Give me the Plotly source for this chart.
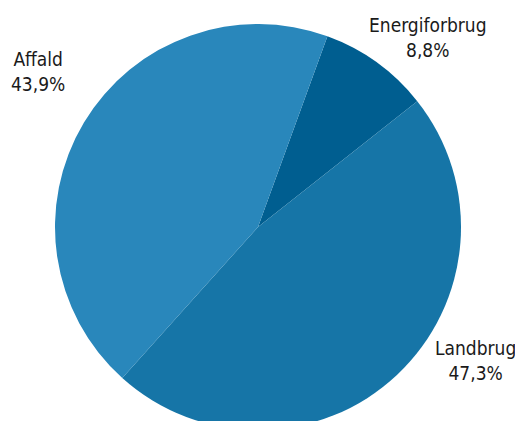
import plotly.graph_objects as go

labels = ["Energiforbrug", "Landbrug", "Affald"]
values = [8.8, 47.3, 43.9]
colors = ["#005e90", "#1675a7", "#2987bb"]

# label placement (figure px, from top-left) — layout only
label_pos = {"Energiforbrug": (428, 37), "Landbrug": (476, 360), "Affald": (38, 71)}

W, H = 515, 440
ML, MR, MT, MB = 55, 54, 24, 10
PW, PH = W - ML - MR, H - MT - MB

fig = go.Figure(go.Pie(
    labels=labels, values=values, sort=False, direction="clockwise", rotation=20,
    marker=dict(colors=colors, line=dict(width=0)),
    textinfo="none", hoverinfo="label+percent", showlegend=False,
))

for lab, val in zip(labels, values):
    x, y = label_pos[lab]
    fig.add_annotation(
        x=(x - ML) / PW, y=1 - (y - MT) / PH, xref="paper", yref="paper", showarrow=False,
        text=f"{lab}<br>{str(val).replace('.', ',')}%",
        font=dict(family="DejaVu Sans Condensed, Liberation Sans Narrow, sans-serif", size=19, color="#1a1a1a"),
        xanchor="center", yanchor="middle", align="center",
    )

fig.update_layout(
    width=W, height=H,
    margin=dict(l=ML, r=MR, t=MT, b=MB),
    paper_bgcolor="white", plot_bgcolor="white",
)
fig.write_html("out.html")
